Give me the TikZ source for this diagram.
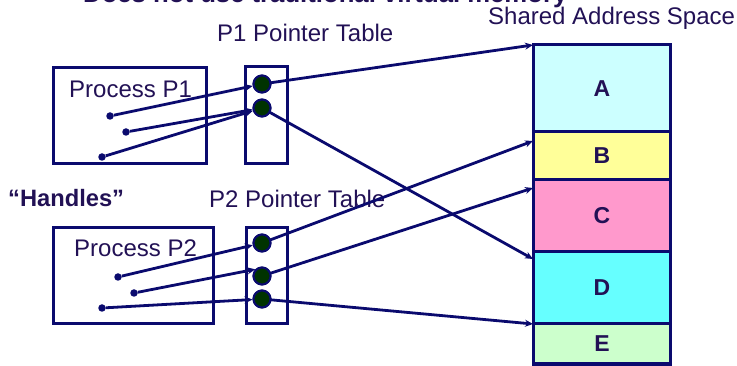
\documentclass[tikz,border=0pt]{standalone}
\usepackage{fontspec}
\setmainfont{Liberation Sans}
\usetikzlibrary{arrows.meta}
\definecolor{navy}{RGB}{10,10,110}
\definecolor{txt}{RGB}{34,17,85}
\definecolor{dkgreen}{RGB}{0,51,0}
\definecolor{segA}{RGB}{204,255,255}
\definecolor{segB}{RGB}{255,255,153}
\definecolor{segC}{RGB}{255,153,204}
\definecolor{segD}{RGB}{102,255,255}
\definecolor{segE}{RGB}{204,255,204}
\tikzset{
  box/.style={draw=navy,line width=3pt},
  seg/.style={draw=navy,line width=3pt},
  ptr/.style={circle,draw=navy,line width=2pt,fill=dkgreen,minimum size=17pt,inner sep=0pt},
  handle/.style={circle,fill=navy,minimum size=7.5pt,inner sep=0pt},
  conn/.style={draw=navy,line width=2.8pt,-{Stealth[length=8pt,width=7pt]}},
  lbl/.style={text=txt,inner sep=0pt,anchor=base west,font=\fontsize{24}{28}\selectfont},
  blbl/.style={text=txt,inner sep=0pt,font=\bfseries\fontsize{23}{27}\selectfont},
}
\begin{document}
\begin{tikzpicture}[x=1pt,y=-1pt]
\useasboundingbox (0,0) rectangle (737,366);
\clip (0,0) rectangle (737,366);
% title (cut off at top, as in the reference)
\node[lbl,font=\bfseries\fontsize{25.7}{30}\selectfont] (title) at (83,2.5) {Does not use traditional virtual memory};
\node[lbl] (sas) at (488,25) {Shared Address Space};
\node[lbl] (p1t) at (217,42) {P1 Pointer Table};
\node[lbl] (p2t) at (209,208) {P2 Pointer Table};
\node[lbl,font=\bfseries\fontsize{23.7}{28}\selectfont] (hdl) at (8,207) {“Handles”};
% shared address space column
\draw[seg,fill=segA] (533,45) rectangle (670,132);
\draw[seg,fill=segB] (533,132) rectangle (670,180);
\draw[seg,fill=segC] (533,180) rectangle (670,252);
\draw[seg,fill=segD] (533,252) rectangle (670,324);
\draw[seg,fill=segE] (533,324) rectangle (670,364);
\node[blbl] (A) at (602,89) {A};
\node[blbl] (B) at (602,156) {B};
\node[blbl] (C) at (602,216) {C};
\node[blbl] (D) at (602,288) {D};
\node[blbl] (E) at (602,344) {E};
\coordinate (tA) at (533,45);
\coordinate (tB) at (533,141);
\coordinate (tC) at (533,188);
\coordinate (tD) at (533,259);
\coordinate (tE) at (533,324);
% processes and tables
\draw[box] (53,68) rectangle (206,164);
\draw[box] (245,67) rectangle (287,164);
\draw[box] (53,228) rectangle (213,324);
\draw[box] (246,228) rectangle (287,324);
\node[lbl] (pp1) at (69,98) {Process P1};
\node[lbl] (pp2) at (74,257) {Process P2};
% pointer entries
\node[ptr] (a1) at (262,84) {};
\node[ptr] (a2) at (262,108) {};
\node[ptr] (b1) at (262,243) {};
\node[ptr] (b2) at (262,276) {};
\node[ptr] (b3) at (262,299) {};
% handles
\node[handle] (h1) at (110,116) {};
\node[handle] (h2) at (126,132) {};
\node[handle] (h3) at (102,157) {};
\node[handle] (k1) at (118,277) {};
\node[handle] (k2) at (134,293) {};
\node[handle] (k3) at (102,308) {};
% connectors table -> space
\draw[conn] (a1.center) -- (tA);
\draw[conn] (a2.center) -- (tD);
\draw[conn] (b1.center) -- (tB);
\draw[conn] (b2.center) -- (tC);
\draw[conn] (b3.center) -- (tE);
% redraw entries on top
\node[ptr] at (a1) {};
\node[ptr] at (a2) {};
\node[ptr] at (b1) {};
\node[ptr] at (b2) {};
\node[ptr] at (b3) {};
% connectors handle -> entry
\draw[conn] (h1) -- (a1);
\draw[conn] (h2) -- (a2);
\draw[conn] (h3) -- (a2);
\draw[conn] (k1) -- (b1);
\draw[conn] (k2) -- (b2.north west);
\draw[conn] (k3) -- (b3);
\end{tikzpicture}
\end{document}
